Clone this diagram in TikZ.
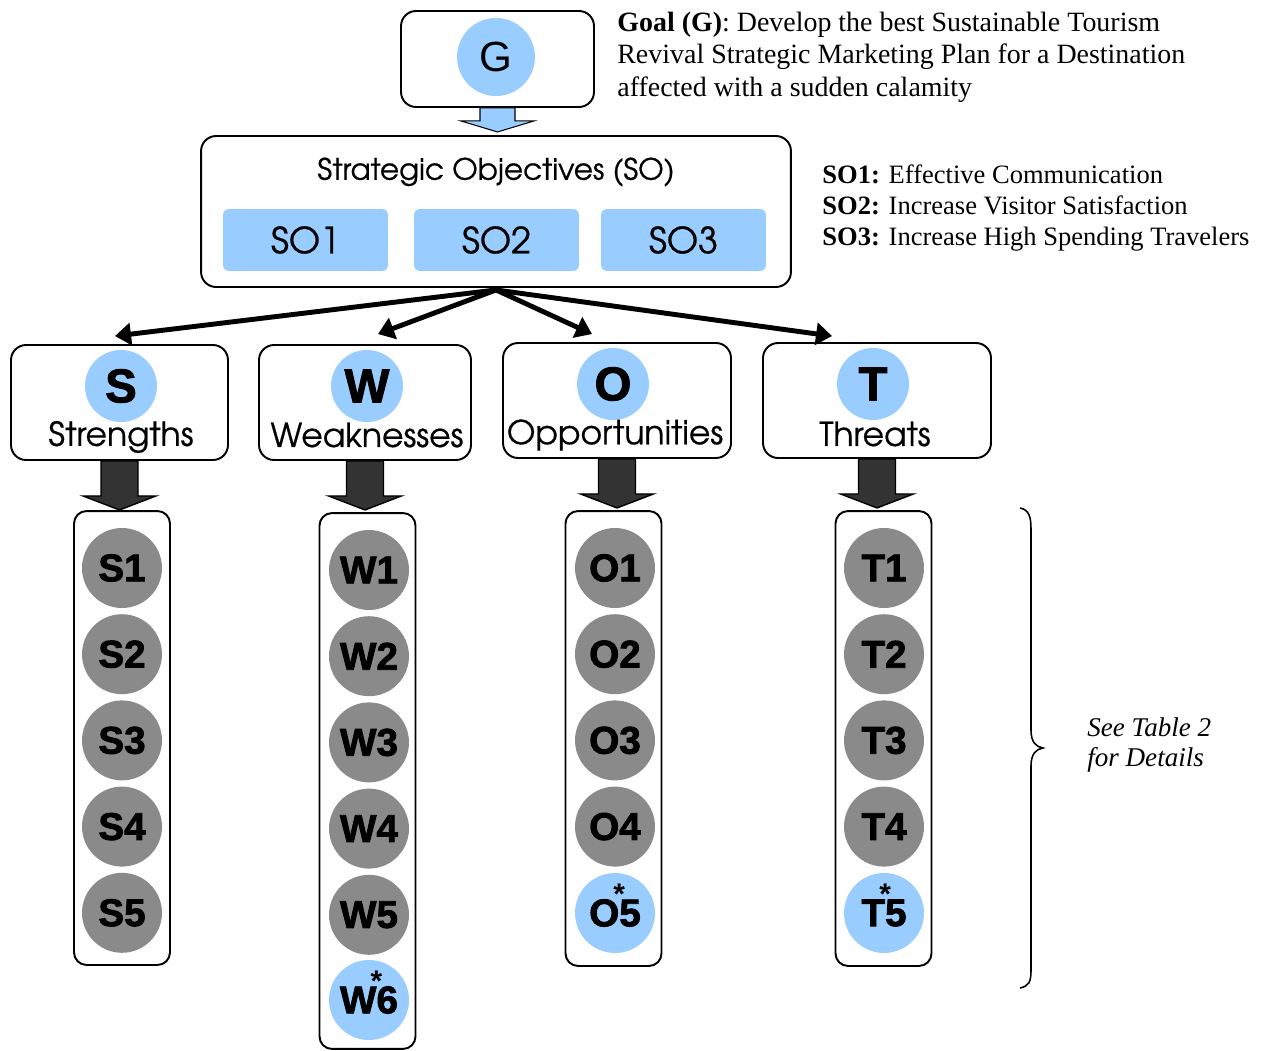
\documentclass[tikz,border=0pt]{standalone}
\usepackage{fontspec}
\usetikzlibrary{arrows.meta}
\setmainfont{Liberation Serif}
\newfontfamily\gothic{texgyreadventor-regular.otf}[FakeBold=0.6]
\newfontfamily\arial{Liberation Sans}
\newfontfamily\heavy{Liberation Sans}[BoldFeatures={FakeBold=2}]
\definecolor{skyblue}{HTML}{99CCFF}
\definecolor{discgray}{HTML}{8A8A8A}
\definecolor{arrowgray}{HTML}{333333}
\newcommand{\starred}[2]{#1\makebox[0pt]{\smash{\raisebox{12.5pt}{\arial\fontsize{17}{17}\selectfont *}}}#2}
\begin{document}
\begin{tikzpicture}[x=0.02cm, y=-0.02cm,
    roundbox/.style={draw, line width=1.1pt, rounded corners=0.3cm},
    bigdisc/.style={circle, fill=skyblue, minimum size=1.44cm, inner sep=0pt,
        font=\heavy\bfseries\fontsize{27}{27}\selectfont},
    swotlabel/.style={font=\gothic\fontsize{18.8}{20}\selectfont},
    sotab/.style={fill=skyblue, rounded corners=0.12cm, minimum width=3.3cm,
        minimum height=1.24cm, font=\gothic\fontsize{20.5}{24}\selectfont},
    itemdisc/.style={circle, fill=discgray, minimum size=1.6cm, inner sep=0pt,
        font=\heavy\bfseries\fontsize{22}{24}\selectfont},
    hotdisc/.style={itemdisc, fill=skyblue},
    column/.style={roundbox, rounded corners=0.25cm, minimum width=1.92cm},
    fatarrow/.style={line width=2.8pt, -{Triangle[length=0.32cm,width=0.44cm]}},
    blockarrow/.style={draw=black, fill=arrowgray, line width=0.8pt, line join=miter}]
    \useasboundingbox (0,0) rectangle (1264,1051);

    % goal
    \node[roundbox, minimum width=3.86cm, minimum height=1.92cm] (gbox) at (497.5,59) {};
    \node[bigdisc, minimum size=1.56cm, font=\arial\fontsize{24}{24}\selectfont] (g) at (496,57) {G};
    \node[anchor=west, align=left, inner sep=0pt, font=\fontsize{15.9}{18.4}\selectfont] (goal) at (617,57)
        {\textbf{Goal (G)}: Develop the best Sustainable Tourism\\
         Revival Strategic Marketing Plan for a Destination\\
         affected with a sudden calamity};
    \draw[blockarrow, fill=skyblue, line width=0.6pt] (gbox.south) ++(-17.5,0) -- ++(0,13)
        -- ++(-19,0) -- ++(36.5,11) -- ++(36.5,-11) -- ++(-19,0) -- ++(0,-13) -- cycle;

    % strategic objectives
    \node[roundbox, minimum width=11.8cm, minimum height=3.02cm] (so) at (496,211.5) {};
    \node[font=\gothic\fontsize{16.8}{19}\selectfont] (sotitle) at (496,172) {Strategic Objectives (SO)};
    \node[sotab] (so1) at (305.5,240) {SO1};
    \node[sotab] (so2) at (496.5,240) {SO2};
    \node[sotab] (so3) at (683.5,240) {SO3};
    \node[anchor=west, align=left, inner sep=0pt, font=\fontsize{15.1}{17.6}\selectfont] (sodefs) at (822,208)
        {\textbf{SO1:} Effective Communication\\
         \textbf{SO2:} Increase Visitor Satisfaction\\
         \textbf{SO3:} Increase High Spending Travelers};

    % swot boxes
    \node[roundbox, minimum width=4.34cm, minimum height=2.3cm] (sbox) at (119.5,402.5) {};
    \node[roundbox, minimum width=4.24cm, minimum height=2.3cm] (wbox) at (365,402.5) {};
    \node[roundbox, minimum width=4.56cm, minimum height=2.3cm] (obox) at (617,400.5) {};
    \node[roundbox, minimum width=4.56cm, minimum height=2.3cm] (tbox) at (877,400.5) {};
    \node[bigdisc] (s) at (121,386) {S};
    \node[bigdisc] (w) at (367,386) {W};
    \node[bigdisc] (o) at (613,384) {O};
    \node[bigdisc] (t) at (873,384) {T};
    \node[swotlabel] (slabel) at (121,437) {Strengths};
    \node[swotlabel] (wlabel) at (367,435) {Weaknesses};
    \node[swotlabel] (olabel) at (615,435) {Opportunities};
    \node[swotlabel] (tlabel) at (875,434) {Threats};

    \draw[fatarrow] ([yshift=-0.04cm]so.south) -- ([xshift=-0.09cm, yshift=0.16cm]sbox.north);
    \draw[fatarrow] ([yshift=-0.04cm]so.south) -- ([xshift=0.26cm, yshift=0.2cm]wbox.north);
    \draw[fatarrow] ([yshift=-0.04cm]so.south) -- ([xshift=-0.5cm, yshift=0.16cm]obox.north);
    \draw[fatarrow] ([yshift=-0.04cm]so.south) -- ([xshift=-0.9cm, yshift=0.12cm]tbox.north);

    \foreach \b in {sbox,wbox,obox,tbox}
        \draw[blockarrow] (\b.south) ++(-18.5,0) -- ++(0,35) -- ++(-18,0) -- ++(36.5,14)
            -- ++(36.5,-14) -- ++(-18,0) -- ++(0,-35) -- cycle;

    % item columns
    \node[column, minimum height=9.08cm] (scol) at (122,738) {};
    \node[column, minimum height=10.72cm] (wcol) at (367.5,781) {};
    \node[column, minimum height=9.1cm] (ocol) at (613.5,738.5) {};
    \node[column, minimum height=9.1cm] (tcol) at (883.5,738.5) {};
    \foreach \i in {1,...,5}
        \node[itemdisc] (s\i) at (122,{568+86.2*(\i-1)}) {S\i};
    \foreach \i in {1,...,5}
        \node[itemdisc] (w\i) at (369,{570+86.2*(\i-1)}) {W\i};
    \node[hotdisc] (w6) at (369,1000) {\starred{W}{6}};
    \foreach \i in {1,...,4}
        \node[itemdisc] (o\i) at (615,{568+86.2*(\i-1)}) {O\i};
    \node[hotdisc] (o5) at (615,913) {\starred{O}{5}};
    \foreach \i in {1,...,4}
        \node[itemdisc] (t\i) at (884,{568+86.2*(\i-1)}) {T\i};
    \node[hotdisc] (t5) at (884,913) {\starred{T}{5}};

    % brace and note
    \draw[line width=0.9pt] (1020,508) .. controls (1029,510) and (1031,516) .. (1031,530)
        -- (1031,730) .. controls (1031,742) and (1036,747) .. (1043,748)
        .. controls (1036,749) and (1031,754) .. (1031,766) -- (1031,970)
        .. controls (1031,982) and (1029,986) .. (1020,988);
    \node[anchor=west, align=left, inner sep=0pt, font=\itshape\fontsize{15.4}{17.6}\selectfont] (note) at (1087,745)
        {See Table 2\\for Details};
\end{tikzpicture}
\end{document}
